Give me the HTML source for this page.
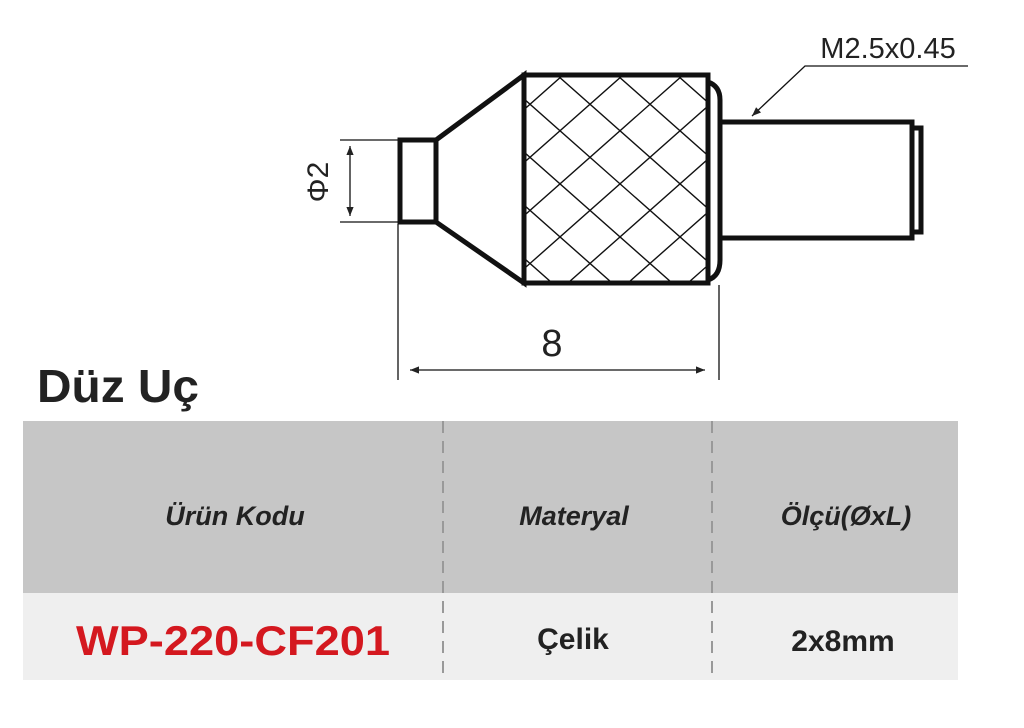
<!DOCTYPE html>
<html><head><meta charset="utf-8"><style>
body{margin:0;width:1024px;height:728px;background:#fff;overflow:hidden;font-family:"Liberation Sans",sans-serif;position:relative}
</style></head><body>
<svg width="1024" height="728" style="position:absolute;left:0;top:0">
<defs>
<clipPath id="k"><rect x="526" y="76" width="180" height="205"/></clipPath>
<marker id="a" viewBox="0 0 10 10" refX="10" refY="5" markerWidth="14" markerHeight="9" orient="auto-start-reverse" markerUnits="userSpaceOnUse"><path d="M0,1 L10,5 L0,9 Z" fill="#222"/></marker>
</defs>
<g stroke="#111" fill="none">
<g clip-path="url(#k)" stroke-width="1.4">
<path d="M300,60 l260,230 M360,60 l260,230 M420,60 l260,230 M480,60 l260,230 M540,60 l260,230 M600,60 l260,230 M660,60 l260,230 M720,60 l260,230 M240,60 l260,230"/>
<path d="M940,60 l-260,230 M880,60 l-260,230 M820,60 l-260,230 M760,60 l-260,230 M700,60 l-260,230 M640,60 l-260,230 M580,60 l-260,230 M1000,60 l-260,230"/>
</g>
<g stroke-width="5">
<rect x="400" y="140" width="36" height="82"/>
<path d="M436,140 L524,75 L524,283 L436,222"/>
<rect x="524" y="75" width="184" height="208"/>
<path d="M708,82 Q720,86 720,100 L720,260 Q720,276 708,280"/>
<path d="M720,122 L912,122 L912,238 L720,238"/>
<path d="M912,128 L921,128 L921,232 L912,232"/>
</g>
<g stroke-width="1.3">
<path d="M340,140 H398 M340,222 H398"/>
<path d="M350,146 V216" marker-start="url(#a)" marker-end="url(#a)"/>
<path d="M398,224 V380 M719,285 V380"/>
<path d="M410,370 H705" marker-start="url(#a)" marker-end="url(#a)"/>
<path d="M968,66 H805 L752,116" marker-end="url(#a)"/>
</g>
</g>
<text x="0" y="0" transform="translate(328,182) rotate(-90)" text-anchor="middle" font-size="30" fill="#222" font-family="Liberation Sans">Φ2</text>
<text x="552" y="356" text-anchor="middle" font-size="38" fill="#222" font-family="Liberation Sans">8</text>
<text x="888" y="58" text-anchor="middle" font-size="29" fill="#222" font-family="Liberation Sans">M2.5x0.45</text>
<text x="37" y="402" textLength="162" lengthAdjust="spacingAndGlyphs" font-size="46" font-weight="bold" fill="#222" font-family="Liberation Sans">Düz Uç</text>
<rect x="23" y="421" width="935" height="172" fill="#c6c6c6"/>
<rect x="23" y="593" width="935" height="87" fill="#efefef"/>
<g stroke="#999" stroke-width="2" stroke-dasharray="12,8">
<path d="M443,421 V680 M712,421 V680"/>
</g>
<g font-family="Liberation Sans" fill="#222" font-style="italic" font-weight="bold" font-size="27" text-anchor="middle">
<text x="235" y="525">Ürün Kodu</text>
<text x="574" y="525">Materyal</text>
<text x="846" y="525">Ölçü(ØxL)</text>
</g>
<text x="76" y="655" textLength="314" lengthAdjust="spacingAndGlyphs" font-size="42" fill="#d4181f" font-family="Liberation Sans" font-weight="bold">WP-220-CF201</text>
<text x="573" y="649" text-anchor="middle" font-size="30" fill="#222" font-family="Liberation Sans" font-weight="bold">Çelik</text>
<text x="843" y="651" text-anchor="middle" font-size="30" fill="#222" font-family="Liberation Sans" font-weight="bold">2x8mm</text>
</svg>
</body></html>
